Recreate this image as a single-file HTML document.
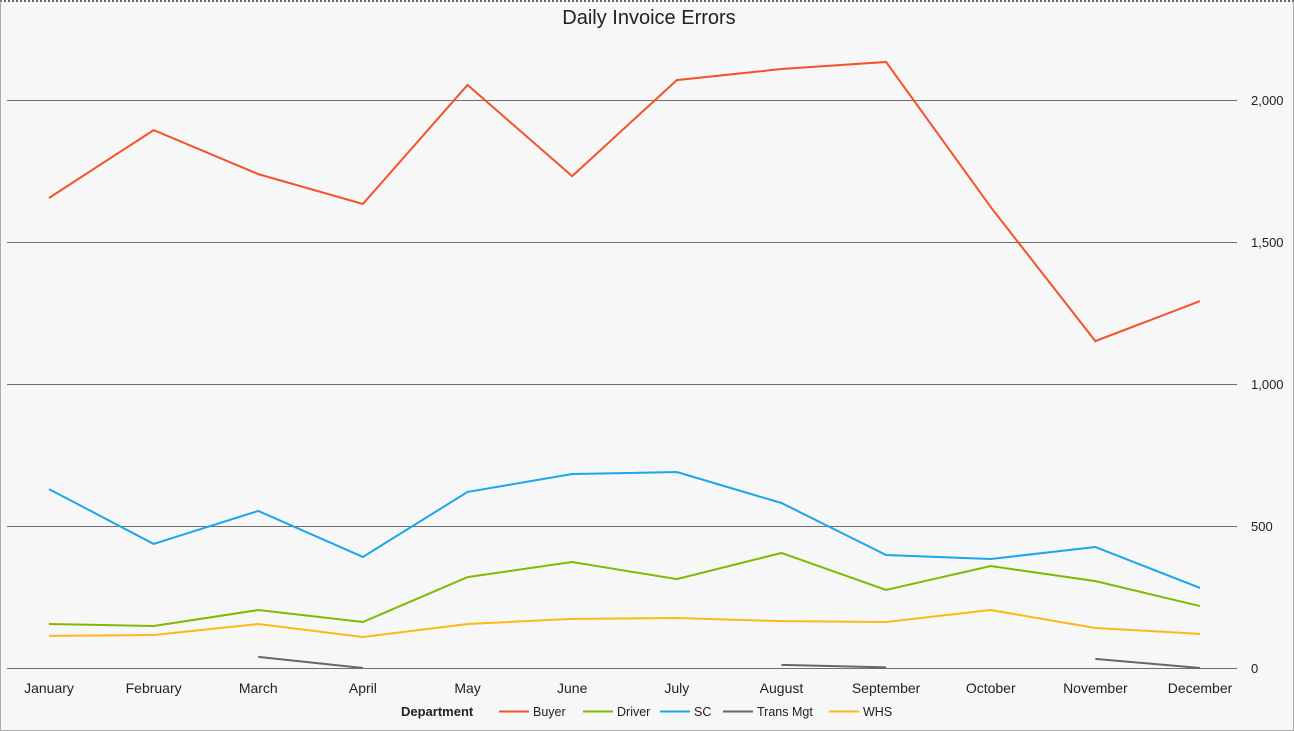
<!DOCTYPE html>
<html><head><meta charset="utf-8"><style>
body{margin:0;background:#fff;}
#wrap{position:relative;background:#f7f7f7;border:1px solid #aaa;border-top:2px dotted #666;box-sizing:border-box;width:1294px;height:731px;font-family:"Liberation Sans",sans-serif;}
</style></head><body>
<div id="wrap">
<svg id="chart" width="1294" height="729" style="position:absolute;left:0;top:0"></svg>
</div>
<script>
const months=["January","February","March","April","May","June","July","August","September","October","November","December"];
const yTicks=[0,500,1000,1500,2000];
const buyer=[1655,1894,1739,1634,2053,1732,2070,2109,2134,1623,1151,1292];
const driver=[155,148,204,162,320,373,313,405,275,359,306,218];
const sc=[630,437,553,391,620,683,690,581,398,384,426,282];
const transMgt=[null,null,39,0,null,null,null,11,2,null,32,0];
const whs=[113,116,155,109,155,173,176,165,162,204,141,120];
const seriesNames=["Buyer","Driver","SC","Trans Mgt","WHS"];
const seriesColors=["#f4532a","#7fba00","#1aa6ec","#666666","#fdb813"];
const seriesData=[buyer,driver,sc,transMgt,whs];
const NS="http://www.w3.org/2000/svg";
const svg=document.getElementById('chart');
const x0=48,x1=1199,yBase=666,yPer=0.284;
const X=i=>x0+(x1-x0)*i/(months.length-1);
const Y=v=>yBase-v*yPer;
function mk(t,a,p){const e=document.createElementNS(NS,t);for(const k in a)e.setAttribute(k,a[k]);(p||svg).appendChild(e);return e;}
const title=mk('text',{x:648,y:22,'text-anchor':'middle','font-size':20,fill:'#222','font-family':'Liberation Sans, sans-serif'});
title.textContent='Daily Invoice Errors';


yTicks.forEach(v=>{
 const yy=Math.round(Y(v))+0.5;
 const l=mk('line',{x1:6,x2:1236,y1:yy,y2:yy,stroke:'#6e6e6e','stroke-width':1});
 
 
 const t=mk('text',{x:1250,y:Y(v)+5,'font-size':13,fill:'#222','font-family':'Liberation Sans, sans-serif'});
 t.textContent=v.toLocaleString('en-US');
 
 
});
months.forEach((m,i)=>{
 const t=mk('text',{x:X(i),y:691,'text-anchor':'middle','font-size':14,fill:'#222','font-family':'Liberation Sans, sans-serif'});
 t.textContent=m;
 
 
});
seriesData.forEach((d,s)=>{
 let path='',pen=false;
 d.forEach((v,i)=>{if(v===null){pen=false;return;}path+=(pen?'L':'M')+X(i)+' '+Y(v)+' ';pen=true;});
 const p=mk('path',{d:path,fill:'none',stroke:seriesColors[s],'stroke-width':2});
 
 
});
const lt=mk('text',{x:400,y:714,'font-size':13,'font-weight':'bold',fill:'#222','font-family':'Liberation Sans, sans-serif'});
lt.textContent='Department';


const lx=[498,582,659,722,828];
seriesNames.forEach((n,s)=>{
 const g=mk('g',{});
 
 
 mk('line',{x1:lx[s],x2:lx[s]+30,y1:709.5,y2:709.5,stroke:seriesColors[s],'stroke-width':2},g);
 const t=mk('text',{x:lx[s]+34,y:714,'font-size':12.5,fill:'#222','font-family':'Liberation Sans, sans-serif'},g);
 t.textContent=n;
});
</script>
</body></html>
